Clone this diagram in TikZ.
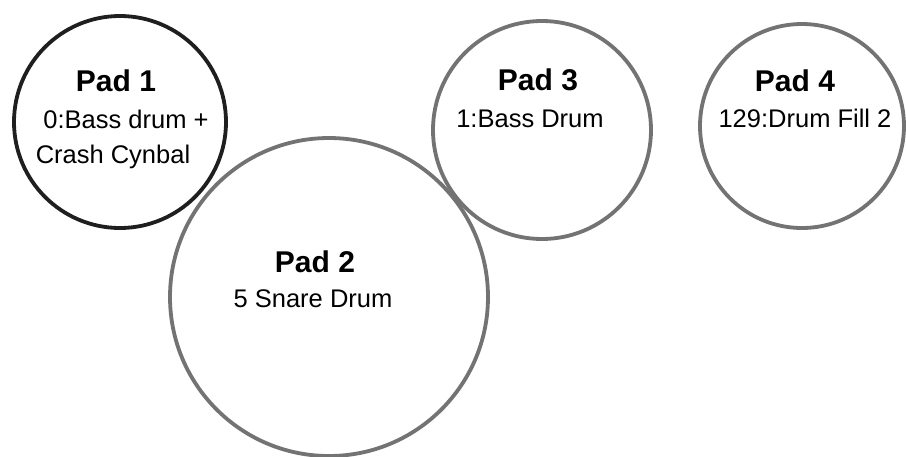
\documentclass[tikz,border=0pt]{standalone}
\usepackage{fontspec}
\setmainfont{Liberation Sans}
\begin{document}
\begin{tikzpicture}[x=1pt,y=-1pt,
  padring/.style={draw=#1, line width=3.8pt, circle, inner sep=0pt},
  padtitle/.style={font=\fontsize{30}{34}\selectfont\bfseries, anchor=base, inner sep=0pt},
  padtext/.style={font=\fontsize{25.5}{35}\selectfont, anchor=base, inner sep=0pt, align=center}]
\useasboundingbox (0,0) rectangle (906,456);
\fill[white] (0,0) rectangle (906,456);
% rings
\node[padring=black!88, minimum size=212pt] (p1) at (120,122) {};
\node[padring=black!55, minimum size=318pt] (p2) at (329,297) {};
\node[padring=black!55, minimum size=218pt] (p3) at (542,130) {};
\node[padring=black!55, minimum size=204pt] (p4) at (802,126) {};
% texts
\node[padtitle] (t1) at (116,91) {Pad 1};
\node[padtext] (s1a) at (126,128) {0:Bass drum +};
\node[padtext] (s1b) at (113,163) {Crash Cynbal};
\node[padtitle] (t2) at (315,272) {Pad 2};
\node[padtext] (s2) at (313,307) {5 Snare Drum};
\node[padtitle] (t3) at (538,90) {Pad 3};
\node[padtext] (s3) at (530,127) {1:Bass Drum};
\node[padtitle] (t4) at (795,91) {Pad 4};
\node[padtext] (s4) at (805,127) {129:Drum Fill 2};
\end{tikzpicture}
\end{document}
